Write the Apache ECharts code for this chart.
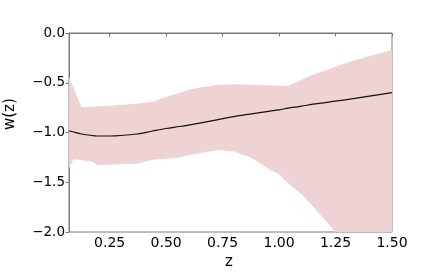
<!DOCTYPE html>
<html>
<head>
<meta charset="utf-8">
<script src="https://cdn.jsdelivr.net/npm/echarts@6/dist/echarts.min.js"></script>
<style>html,body{margin:0;padding:0;background:#fff}#c{width:436px;height:273px}</style>
</head>
<body>
<div id="c"></div>
<script>
const zVals = [0.07, 0.09, 0.125, 0.17, 0.195, 0.25, 0.3, 0.37, 0.44, 0.5, 0.56, 0.6, 0.66, 0.73, 0.8, 0.87, 0.93, 0.96, 1.0, 1.04, 1.1, 1.15, 1.25, 1.3, 1.4, 1.5];
const wMean = [-0.982, -0.995, -1.015, -1.03, -1.035, -1.035, -1.03, -1.015, -0.985, -0.96, -0.94, -0.925, -0.9, -0.87, -0.84, -0.815, -0.795, -0.785, -0.772, -0.755, -0.735, -0.715, -0.685, -0.67, -0.635, -0.60];
const wUpper = [-0.44, -0.55, -0.745, -0.74, -0.735, -0.73, -0.72, -0.71, -0.69, -0.64, -0.60, -0.57, -0.545, -0.52, -0.515, -0.52, -0.525, -0.527, -0.53, -0.533, -0.47, -0.42, -0.34, -0.30, -0.23, -0.17];
const wLower = [-1.36, -1.27, -1.28, -1.29, -1.327, -1.325, -1.32, -1.315, -1.275, -1.265, -1.25, -1.228, -1.203, -1.176, -1.19, -1.245, -1.33, -1.375, -1.42, -1.51, -1.62, -1.74, -2.0, -2.1, -2.33, -2.55];
const xTicks = [0.25, 0.5, 0.75, 1.0, 1.25, 1.5];

const font = 'DejaVu Sans';
const chart = echarts.init(document.getElementById('c'), null, {renderer: 'canvas'});
chart.setOption({
  animation: false,
  grid: {left: 69, right: 44, top: 33, bottom: 41, show: true, borderColor: '#7a7a7a', borderWidth: 1},
  xAxis: {
    type: 'value', min: 0.07, max: 1.5,
    axisLine: {show: true, lineStyle: {color: '#7a7a7a', width: 1}},
    axisTick: {show: true, length: 3.5, customValues: xTicks, lineStyle: {color: '#7a7a7a'}},
    axisLabel: {customValues: xTicks, color: '#000', fontFamily: font, fontSize: 14, margin: 4,
      formatter: v => v.toFixed(2)},
    splitLine: {show: false}
  },
  yAxis: {
    type: 'value', min: -2, max: 0, interval: 0.5,
    axisLine: {show: true, lineStyle: {color: '#7a7a7a', width: 1}},
    axisTick: {show: true, length: 3.5, lineStyle: {color: '#7a7a7a'}},
    axisLabel: {color: '#000', fontFamily: font, fontSize: 13.5, margin: 4,
      formatter: v => (v < 0 ? '\u2212' : '') + Math.abs(v).toFixed(1)},
    splitLine: {show: false}
  },
  graphic: [
    {type: 'text', left: 225, top: 255, style: {text: 'z', font: '15px "DejaVu Sans"', fill: '#000'}},
    {type: 'text', x: 3, y: 130, rotation: Math.PI/2, style: {text: 'w(z)', font: '15px "DejaVu Sans"', fill: '#000'}}
  ],
  series: [
    {type: 'custom', clip: true, silent: true, z: 1, data: [0],
     renderItem: (params, api) => {
       const pts = [];
       for (let i = 0; i < zVals.length; i++) pts.push(api.coord([zVals[i], wUpper[i]]));
       for (let i = zVals.length - 1; i >= 0; i--) pts.push(api.coord([zVals[i], wLower[i]]));
       return {type: 'polygon', shape: {points: pts}, style: {fill: '#efd3d4'}};
     }},
    {type: 'line', symbol: 'none', smooth: 0.3, z: 3, lineStyle: {color: '#111', width: 1.2},
     data: zVals.map((z, i) => [z, wMean[i]])}
  ]
});
</script>
</body>
</html>
